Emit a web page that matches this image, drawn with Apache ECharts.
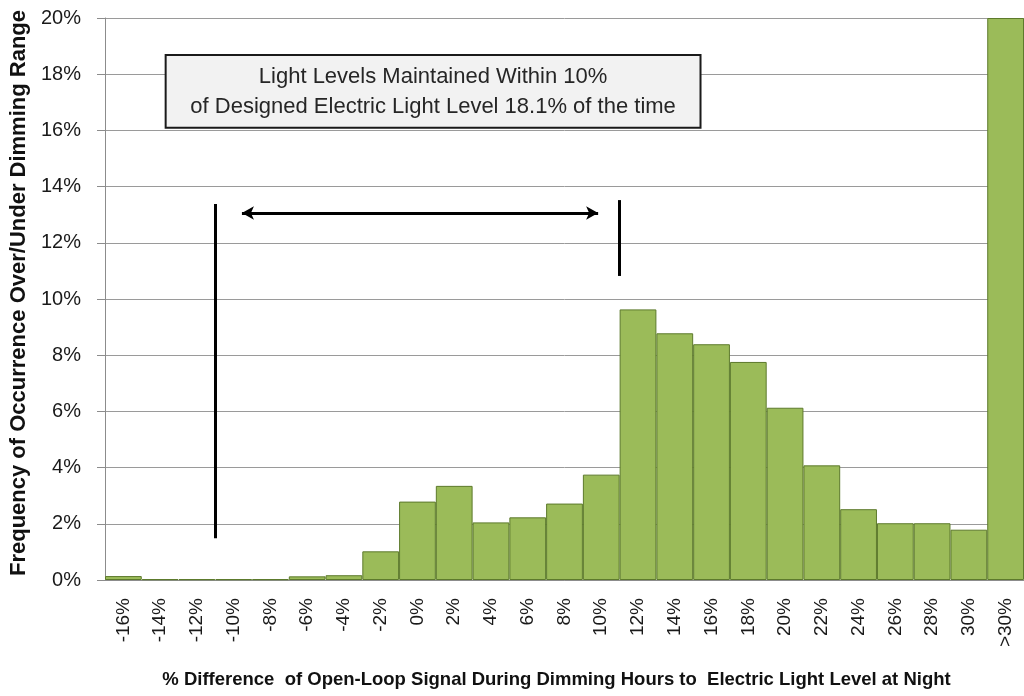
<!DOCTYPE html>
<html lang="en">
<head>
    <meta charset="UTF-8">
    <title>dimming chart</title>
    <script src="https://cdn.jsdelivr.net/npm/echarts@6/dist/echarts.min.js"></script>
    <style>
        html, body { margin: 0; padding: 0; background: #fff; }
        #chart { width: 1024px; height: 696px; }
    </style>
</head>
<body>
<div id="chart"></div>
<script>
    var categories = ["-16%", "-14%", "-12%", "-10%", "-8%", "-6%", "-4%", "-2%", "0%", "2%", "4%", "6%",
        "8%", "10%", "12%", "14%", "16%", "18%", "20%", "22%", "24%", "26%", "28%", "30%", ">30%"];
    var frequency = [0.14, 0.03, 0.03, 0.03, 0.03, 0.13, 0.17, 1.02, 2.79, 3.35, 2.05, 2.23,
        2.72, 3.75, 9.63, 8.78, 8.39, 7.76, 6.13, 4.08, 2.52, 2.02, 2.02, 1.79, 20];
    var yTicks = [0, 20, 2];

    var boxText = "Light Levels Maintained Within 10%\nof Designed Electric Light Level 18.1% of the time";
    var font = "Liberation Sans";

    var chart = echarts.init(document.getElementById("chart"));
    var option = {
        animation: false,
        textStyle: { fontFamily: font },
        grid: { left: 105, right: 0, top: 18, bottom: 116, outerBoundsMode: "none", containLabel: false },
        xAxis: [
            {
                type: "category",
                data: categories,
                axisLine: { lineStyle: { color: "#8c8c8c" } },
                axisTick: { length: 8, lineStyle: { color: "#8c8c8c" } },
                axisLabel: { interval: 0, rotate: 90, fontSize: 19, color: "#1a1a1a", margin: 18 },
                name: "% Difference  of Open-Loop Signal During Dimming Hours to  Electric Light Level at Night",
                nameLocation: "middle",
                nameGap: 90,
                nameTextStyle: { fontSize: 18.5, fontWeight: "bold", color: "#111", padding: [0, 16, 0, 0] }
            },
            {
                type: "value",
                show: false,
                min: -17,
                max: 33
            }
        ],
        yAxis: {
            type: "value",
            min: yTicks[0],
            max: yTicks[1],
            interval: yTicks[2],
            axisLine: { show: true, onZero: false, lineStyle: { color: "#8c8c8c" } },
            axisTick: { show: true, length: 8, lineStyle: { color: "#8c8c8c" } },
            axisLabel: { formatter: "{value}%", fontSize: 20, color: "#1a1a1a", margin: 24 },
            splitLine: { lineStyle: { color: "#9a9a9a" } },
            name: "Frequency of Occurrence Over/Under Dimming Range",
            nameLocation: "middle",
            nameRotate: 90,
            nameGap: 74,
            nameTextStyle: { fontSize: 22, fontWeight: "bold", color: "#111", padding: [0, 0, 0, 12] }
        },
        series: [
            {
                type: "bar",
                data: frequency,
                barCategoryGap: "0%",
                itemStyle: { color: "#9bbb59", borderColor: "#5d7a2c", borderWidth: 1 }
            },
            {
                // annotations in data coordinates
                type: "line",
                xAxisIndex: 1,
                data: [],
                markLine: {
                    silent: true,
                    symbol: "none",
                    label: { show: false },
                    lineStyle: { color: "#000", width: 3, type: "solid" },
                    data: [
                        [{ coord: [-11, 13.38] }, { coord: [-11, 1.49] }],
                        [{ coord: [11, 13.52] }, { coord: [11, 10.82] }],
                        [{ coord: [-9.55, 13.06], symbol: "arrow", symbolSize: [10, 12] },
                         { coord: [9.83, 13.06], symbol: "arrow", symbolSize: [10, 12] }]
                    ]
                },
                markArea: {
                    silent: true,
                    itemStyle: { color: "#f2f2f2", borderColor: "#1a1a1a", borderWidth: 2 },
                    label: {
                        show: true,
                        position: "inside",
                        formatter: boxText,
                        fontSize: 22,
                        lineHeight: 30,
                        color: "#262626",
                        fontFamily: font
                    },
                    data: [[{ coord: [-13.7, 18.68] }, { coord: [15.4, 16.09] }]]
                }
            }
        ]
    };
    chart.setOption(option);
</script>
</body>
</html>
